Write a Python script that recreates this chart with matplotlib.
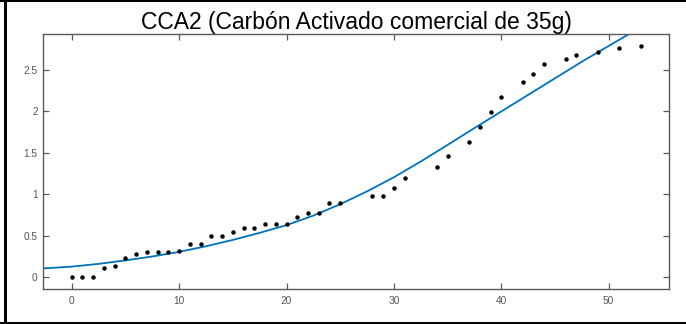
import matplotlib
matplotlib.use("Agg")
import matplotlib.pyplot as plt
from matplotlib.lines import Line2D

# measured data (time vs. response)
t_obs = [0, 1, 2, 3, 4, 5, 6, 7, 8, 9, 10, 11, 12, 13, 14, 15, 16, 17, 18, 19,
         20, 21, 22, 23, 24, 25, 28, 29, 30, 31, 34, 35, 37, 38, 39, 40, 42, 43,
         44, 46, 47, 49, 51, 53]
y_obs = [0.0, 0.0, 0.0, 0.115, 0.136, 0.228, 0.283, 0.312, 0.312, 0.312, 0.316,
         0.40, 0.40, 0.496, 0.496, 0.552, 0.592, 0.592, 0.64, 0.64, 0.64, 0.728,
         0.78, 0.776, 0.892, 0.892, 0.98, 0.98, 1.076, 1.196, 1.328, 1.464,
         1.628, 1.81, 1.99, 2.17, 2.356, 2.456, 2.568, 2.628, 2.676, 2.72,
         2.764, 2.79]

# fitted curve, sampled
t_fit = [-2.65, 0, 2.5, 5, 7.5, 10, 12.5, 15, 17.5, 20, 22.5, 25, 27.5, 30,
         32.5, 35, 37.5, 40, 42.5, 45, 47.5, 50, 52.5, 55.65]
y_fit = [0.108, 0.13, 0.163, 0.205, 0.252, 0.308, 0.375, 0.452, 0.537, 0.63,
         0.745, 0.882, 1.037, 1.207, 1.397, 1.597, 1.8, 2.0, 2.2, 2.4,
         2.6, 2.79, 2.98, 3.22]

xticks = [0, 10, 20, 30, 40, 50]
yticks = [0, 0.5, 1, 1.5, 2, 2.5]
ytick_labels = ["0", "0.5", "1", "1.5", "2", "2.5"]

plt.rcParams["font.family"] = ["Liberation Sans", "DejaVu Sans"]

fig = plt.figure(figsize=(6.86, 3.24), dpi=100)
ax = fig.add_axes([0.0631, 0.108, 0.9126, 0.786])

ax.plot(t_fit, y_fit, color="#0072BD", lw=1.3, solid_capstyle="butt",
        solid_joinstyle="round")
ax.plot(t_obs, y_obs, "o", color="black", ms=3.2, mec="none")

ax.set_xlim(-2.65, 55.65)
ax.set_ylim(-0.14, 2.93)
ax.set_xticks(xticks)
ax.set_yticks(yticks)
ax.set_yticklabels(ytick_labels)

for s in ax.spines.values():
    s.set_color("#5a5a5a")
    s.set_linewidth(1.0)
ax.tick_params(direction="in", length=4, width=0.9, color="#5a5a5a",
               labelcolor="#555555", labelsize=7.3, top=True, right=True)
ax.tick_params(axis="x", pad=5)
ax.tick_params(axis="y", pad=4)

ax.set_title("CCA2 (Carbón Activado comercial de 35g)", fontsize=16.5,
             color="black", pad=3.5)

# outer frame: left, top and bottom edges
w, h = 686, 324
frame = [
    ((4.5 / w, 4.5 / w), (0.0, 1.0), 3.0),
    ((0.0, 1.0), (1 - 0.5 / h, 1 - 0.5 / h), 2.0),
    ((0.0, 1.0), (1.5 / h, 1.5 / h), 3.0),
]
for xs, ys, lw in frame:
    fig.add_artist(Line2D(xs, ys, color="black", lw=lw * 0.72,
                          transform=fig.transFigure))

fig.savefig("out.png", dpi=100, facecolor="white")
